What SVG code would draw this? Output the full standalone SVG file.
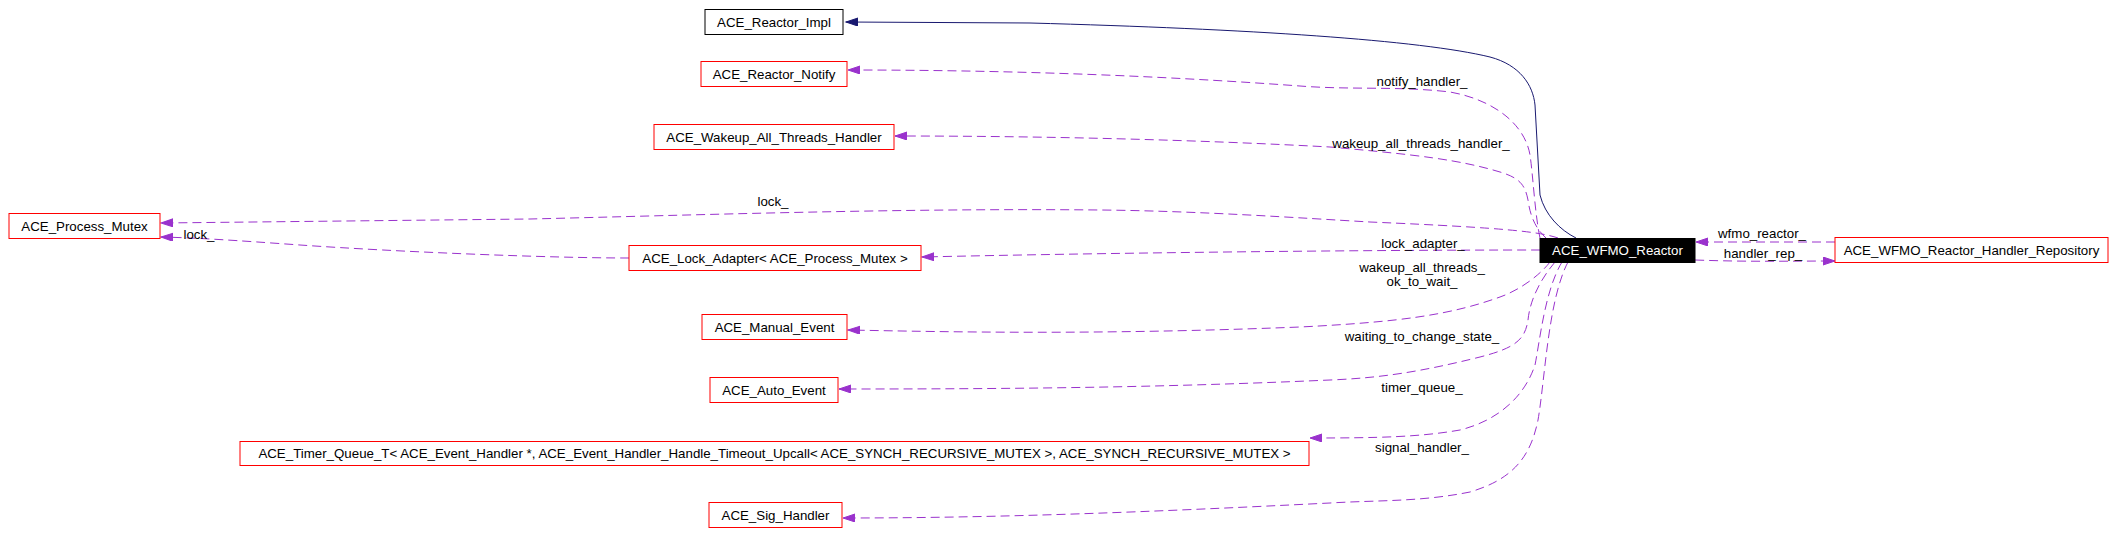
<svg xmlns="http://www.w3.org/2000/svg" width="2124" height="546" viewBox="0 0 2124 546">
<style>
  .box { fill: #ffffff; stroke: #ff0000; stroke-width: 1; }
  .box-b { fill: #ffffff; stroke: #000000; stroke-width: 1; }
  .box-main { fill: #000000; stroke: #000000; stroke-width: 1; }
  .t { font-family: "Liberation Sans", Arial, Helvetica, sans-serif; font-size: 13.3px; fill: #000000; text-anchor: middle; }
  .tw { font-family: "Liberation Sans", Arial, Helvetica, sans-serif; font-size: 13.3px; fill: #ffffff; text-anchor: middle; }
  .lbl { font-family: "Liberation Sans", Arial, Helvetica, sans-serif; font-size: 13.3px; fill: #000000; text-anchor: middle; }
  .use { fill: none; stroke: #9a32cd; stroke-width: 1; stroke-dasharray: 9,5; marker-end: url(#ap); }
  .inh { fill: none; stroke: #191970; stroke-width: 1; marker-end: url(#an); }
</style>
<defs>
  <marker id="ap" markerUnits="userSpaceOnUse" markerWidth="14" markerHeight="10" refX="12" refY="4" orient="auto">
    <polygon points="0,0 12,4 0,8" fill="#9a32cd" stroke="#9a32cd" stroke-width="1"/>
  </marker>
  <marker id="an" markerUnits="userSpaceOnUse" markerWidth="14" markerHeight="10" refX="12" refY="4" orient="auto">
    <polygon points="0,0 12,4 0,8" fill="#191970" stroke="#191970" stroke-width="1"/>
  </marker>
</defs>
<rect x="0" y="0" width="2124" height="546" fill="#ffffff"/>

<g id="connectors">
  <path class="inh" d="M1576,238 C1560,230 1545,215 1540,195 L1535,105 C1533,85 1520,65 1490,57 C1420,40 1250,29 1030,23 L846,22"/>
  <path class="use" d="M1540,238 C1535,215 1533,175 1530,155 C1525,125 1495,100 1450,92 C1400,86 1350,90 1300,86 C1150,75 1000,70 848,70"/>
  <path class="use" d="M1546,238 C1535,228 1530,215 1528,200 C1525,185 1520,178 1500,172 C1460,160 1420,155 1330,147 C1200,140 1050,136 895,136"/>
  <path class="use" d="M1558,238 C1540,232 1510,228 1370,222 C1300,218 1200,211 1100,210 C900,208 700,215 530,219 L161,223"/>
  <path class="use" d="M1540,250 C1350,250 1100,253 922,257"/>
  <path class="use" d="M629,258 C550,258 400,252 300,245 C230,240 200,238 161,237"/>
  <path class="use" d="M1550,262 C1540,275 1520,290 1500,297 C1450,315 1400,322 1300,327 C1100,335 950,332 848,330"/>
  <path class="use" d="M1555,262 C1540,280 1530,300 1528,320 C1525,340 1515,348 1480,357 C1420,372 1380,378 1330,380 C1150,388 1000,389 839,389"/>
  <path class="use" d="M1562,262 C1545,290 1540,340 1535,365 C1525,395 1500,420 1460,430 C1420,437 1380,438 1310,438"/>
  <path class="use" d="M1568,262 C1548,300 1545,380 1538,420 C1530,460 1510,480 1470,492 C1420,502 1380,500 1330,503 C1150,512 1000,518 843,518"/>
  <path class="use" d="M1835,242 L1696,242"/>
  <path class="use" d="M1695,260 C1750,262 1790,261 1835,261"/>

  <text class="lbl" x="1422" y="86">notify_handler_</text>
  <text class="lbl" x="1421" y="148">wakeup_all_threads_handler_</text>
  <text class="lbl" x="773" y="206">lock_</text>
  <text class="lbl" x="1423" y="248">lock_adapter_</text>
  <text class="lbl" x="199" y="239">lock_</text>
  <text class="lbl" x="1422" y="272">wakeup_all_threads_</text>
  <text class="lbl" x="1422" y="286">ok_to_wait_</text>
  <text class="lbl" x="1422" y="341">waiting_to_change_state_</text>
  <text class="lbl" x="1422" y="392">timer_queue_</text>
  <text class="lbl" x="1422" y="452">signal_handler_</text>
  <text class="lbl" x="1762" y="238">wfmo_reactor_</text>
  <text class="lbl" x="1763" y="258">handler_rep_</text>
</g>

<g id="node-ACE_Reactor_Impl">
  <rect class="box-b" x="705" y="9.5" width="138" height="25"/>
  <text class="t" x="774" y="26.5">ACE_Reactor_Impl</text>
</g>
<g id="node-ACE_Reactor_Notify">
  <rect class="box" x="701" y="61.5" width="146" height="25"/>
  <text class="t" x="774" y="78.5">ACE_Reactor_Notify</text>
</g>
<g id="node-ACE_Wakeup_All_Threads_Handler">
  <rect class="box" x="654" y="124.5" width="240" height="25"/>
  <text class="t" x="774" y="141.5">ACE_Wakeup_All_Threads_Handler</text>
</g>
<g id="node-ACE_Process_Mutex">
  <rect class="box" x="9" y="213.5" width="151" height="25"/>
  <text class="t" x="84.5" y="230.5">ACE_Process_Mutex</text>
</g>
<g id="node-ACE_Lock_Adapter">
  <rect class="box" x="629" y="245.5" width="292" height="25"/>
  <text class="t" x="775" y="262.5">ACE_Lock_Adapter&lt; ACE_Process_Mutex &gt;</text>
</g>
<g id="node-ACE_WFMO_Reactor">
  <rect class="box-main" x="1540" y="238.5" width="155" height="24"/>
  <text class="tw" x="1617.5" y="255">ACE_WFMO_Reactor</text>
</g>
<g id="node-ACE_WFMO_Reactor_Handler_Repository">
  <rect class="box" x="1835" y="237.5" width="273" height="25"/>
  <text class="t" x="1971.5" y="254.5">ACE_WFMO_Reactor_Handler_Repository</text>
</g>
<g id="node-ACE_Manual_Event">
  <rect class="box" x="702" y="314.5" width="145" height="25"/>
  <text class="t" x="774.5" y="331.5">ACE_Manual_Event</text>
</g>
<g id="node-ACE_Auto_Event">
  <rect class="box" x="710" y="377.5" width="128" height="25"/>
  <text class="t" x="774" y="394.5">ACE_Auto_Event</text>
</g>
<g id="node-ACE_Timer_Queue_T">
  <rect class="box" x="240" y="441.5" width="1069" height="24"/>
  <text class="t" x="774.5" y="458">ACE_Timer_Queue_T&lt; ACE_Event_Handler *, ACE_Event_Handler_Handle_Timeout_Upcall&lt; ACE_SYNCH_RECURSIVE_MUTEX &gt;, ACE_SYNCH_RECURSIVE_MUTEX &gt;</text>
</g>
<g id="node-ACE_Sig_Handler">
  <rect class="box" x="709" y="502.5" width="133" height="25"/>
  <text class="t" x="775.5" y="519.5">ACE_Sig_Handler</text>
</g>
</svg>
